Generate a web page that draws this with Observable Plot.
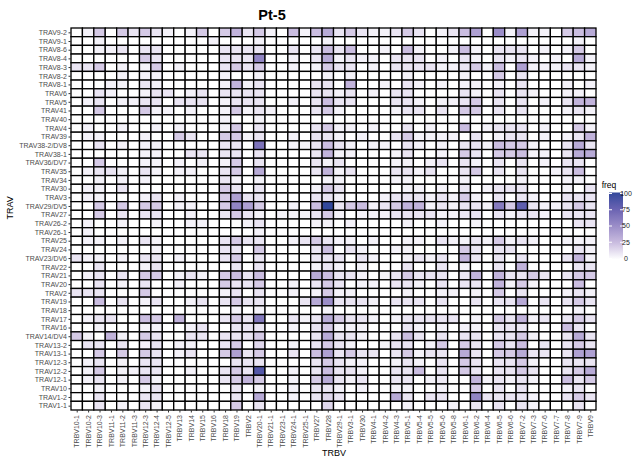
<!DOCTYPE html>
<html><head><meta charset="utf-8">
<script src="https://cdn.jsdelivr.net/npm/d3@7"></script>
<script src="https://cdn.jsdelivr.net/npm/@observablehq/plot@0.6"></script>
<style>
body{margin:0;background:#fff;font-family:"Liberation Sans",Arial,Helvetica,sans-serif;}
#wrap{position:relative;width:641px;height:462px;}
#title{position:absolute;left:0;top:8px;width:544px;text-align:center;font-weight:bold;font-size:14.5px;line-height:14px;color:#000;}
</style></head><body>
<div id="wrap"><div id="title">Pt-5</div></div>
<script>
const trbv = ["TRBV10-1","TRBV10-2","TRBV10-3","TRBV11-1","TRBV11-2","TRBV11-3","TRBV12-3","TRBV12-4","TRBV12-5","TRBV13","TRBV14","TRBV15","TRBV16","TRBV18","TRBV19","TRBV2","TRBV20-1","TRBV21-1","TRBV23-1","TRBV24-1","TRBV25-1","TRBV27","TRBV28","TRBV29-1","TRBV3-1","TRBV30","TRBV4-1","TRBV4-2","TRBV4-3","TRBV5-1","TRBV5-4","TRBV5-5","TRBV5-6","TRBV5-8","TRBV6-1","TRBV6-2","TRBV6-4","TRBV6-5","TRBV6-6","TRBV7-2","TRBV7-3","TRBV7-6","TRBV7-7","TRBV7-8","TRBV7-9","TRBV9"];

const trav = ["TRAV9-2","TRAV9-1","TRAV8-6","TRAV8-4","TRAV8-3","TRAV8-2","TRAV8-1","TRAV6","TRAV5","TRAV41","TRAV40","TRAV4","TRAV39","TRAV38-2/DV8","TRAV38-1","TRAV36/DV7","TRAV35","TRAV34","TRAV30","TRAV3","TRAV29/DV5","TRAV27","TRAV26-2","TRAV26-1","TRAV25","TRAV24","TRAV23/DV6","TRAV22","TRAV21","TRAV20","TRAV2","TRAV19","TRAV18","TRAV17","TRAV16","TRAV14/DV4","TRAV13-2","TRAV13-1","TRAV12-3","TRAV12-2","TRAV12-1","TRAV10","TRAV1-2","TRAV1-1"];

// non-zero cells per TRAV row: [TRBV index, freq]
const freqPairs = [
 [[1,5],[2,20],[4,20],[5,10],[6,20],[7,10],[8,5],[10,5],[11,20],[13,20],[14,30],[15,10],[16,20],[17,5],[19,25],[20,5],[21,25],[22,35],[23,10],[24,20],[25,10],[26,5],[27,5],[28,10],[29,20],[30,10],[32,5],[33,10],[34,25],[35,40],[37,50],[38,5],[39,40],[40,5],[41,5],[43,20],[44,25],[45,35]],
 [[2,5],[12,5],[16,5],[22,5],[44,5]],
 [[2,5],[3,5],[4,10],[6,10],[7,10],[13,10],[14,10],[15,10],[16,10],[19,10],[21,10],[22,25],[23,10],[24,25],[27,5],[29,25],[30,5],[33,5],[34,25],[35,5],[37,10],[38,10],[39,10],[41,5],[43,5],[44,20]],
 [[6,20],[7,10],[13,10],[14,10],[15,10],[16,55],[19,5],[21,10],[22,35],[23,5],[24,10],[25,5],[26,5],[28,10],[29,10],[30,10],[32,5],[34,10],[35,5],[37,10],[38,5],[39,10],[40,5],[42,5],[44,35],[45,5]],
 [[0,10],[1,10],[2,20],[4,5],[6,5],[7,20],[9,5],[13,10],[14,20],[15,10],[16,20],[19,5],[21,5],[22,20],[23,10],[24,10],[26,5],[28,10],[29,10],[30,10],[31,10],[32,5],[33,5],[34,10],[35,20],[36,5],[37,25],[39,40],[40,5],[41,5],[42,5],[43,10],[44,10],[45,5]],
 [[4,5],[6,5],[7,5],[13,5],[16,5],[22,5],[24,5],[29,5],[34,5],[37,20],[39,10]],
 [[3,5],[4,5],[6,10],[7,5],[13,5],[14,30],[15,5],[16,10],[21,10],[22,10],[24,30],[27,5],[29,10],[30,5],[32,5],[34,5],[35,5],[37,5],[39,10],[43,5],[45,5]],
 [[2,10],[3,5],[6,5],[7,10],[8,10],[10,5],[11,10],[13,10],[14,10],[15,10],[16,10],[21,10],[22,10],[23,5],[24,10],[26,5],[28,10],[29,10],[34,10],[35,5],[37,10],[39,10],[40,5],[43,5],[44,5]],
 [[1,5],[2,10],[4,5],[5,5],[6,10],[7,10],[9,10],[10,10],[11,10],[13,5],[14,10],[15,10],[16,10],[19,5],[21,10],[22,25],[23,10],[24,10],[28,10],[29,10],[30,5],[32,5],[33,5],[34,10],[35,20],[37,10],[39,10],[41,5],[43,10],[44,30],[45,30]],
 [[2,20],[6,20],[7,5],[8,5],[10,5],[13,5],[14,20],[15,5],[16,10],[17,5],[21,10],[22,20],[23,5],[28,5],[29,10],[30,10],[32,10],[34,20],[35,20],[37,10],[39,10],[43,5],[44,10],[45,5]],
 [[13,5],[16,5]],
 [[1,5],[4,5],[7,5],[9,5],[13,5],[14,20],[16,10],[21,10],[22,20],[23,5],[24,5],[26,5],[29,10],[31,5],[34,25],[36,5],[37,10],[38,10],[39,10],[41,5],[44,20],[45,5]],
 [[1,5],[2,5],[6,5],[9,20],[10,10],[13,20],[14,20],[15,5],[16,10],[19,5],[21,10],[22,10],[23,5],[25,5],[28,10],[29,20],[30,5],[31,5],[32,5],[33,5],[35,10],[37,5],[38,10],[39,10],[41,5],[43,5],[44,10],[45,30]],
 [[2,10],[4,5],[6,5],[7,5],[13,10],[14,10],[16,65],[19,5],[20,5],[21,10],[22,25],[23,10],[24,5],[26,5],[27,5],[29,10],[30,5],[32,5],[34,10],[35,10],[36,5],[37,25],[38,20],[39,20],[40,5],[43,10],[44,35],[45,10]],
 [[6,5],[7,5],[10,10],[11,10],[13,10],[14,10],[16,10],[21,10],[22,30],[23,5],[24,5],[28,5],[29,10],[32,5],[34,20],[35,10],[37,20],[38,20],[39,25],[40,5],[41,5],[43,10],[44,35],[45,35]],
 [[2,20],[6,5],[7,5],[9,5],[11,5],[13,5],[14,20],[16,10],[21,10],[22,5],[23,10],[28,5],[29,5],[31,5],[32,10],[34,10],[35,5],[37,10],[39,10],[41,5],[43,10],[44,10]],
 [[1,5],[2,10],[3,10],[4,5],[6,10],[7,5],[9,5],[10,5],[13,10],[14,20],[16,35],[21,10],[22,30],[23,5],[24,10],[28,10],[29,10],[30,5],[31,10],[34,10],[35,20],[37,10],[39,10],[42,5],[43,10],[44,25]],
 [[2,5],[4,5],[6,5],[13,10],[14,5],[16,5],[22,5],[23,5],[28,5],[29,5],[34,5],[39,5],[43,5],[44,5]],
 [[1,5],[2,5],[4,10],[13,20],[14,10],[16,10],[21,5],[22,20],[23,10],[29,5],[30,5],[32,5],[34,10],[36,5],[37,10],[38,10],[39,10],[43,5],[45,10]],
 [[1,5],[2,5],[6,5],[7,10],[9,5],[13,20],[14,40],[15,10],[16,10],[21,10],[22,10],[23,5],[27,5],[28,10],[29,10],[30,10],[31,5],[32,10],[33,5],[34,20],[35,5],[37,10],[39,10],[40,5],[43,10],[44,10],[45,10]],
 [[2,20],[4,20],[6,20],[7,20],[9,5],[10,5],[13,20],[14,55],[15,40],[16,20],[19,5],[21,25],[22,100],[23,10],[24,20],[25,25],[26,5],[27,10],[28,20],[29,30],[30,30],[31,5],[32,10],[33,5],[34,10],[35,10],[36,5],[37,60],[38,20],[39,80],[40,10],[41,5],[42,5],[43,10],[44,20],[45,10]],
 [[2,20],[4,10],[6,10],[7,10],[10,5],[13,10],[14,20],[15,10],[16,5],[18,5],[19,5],[20,5],[21,10],[22,20],[23,5],[25,5],[26,5],[27,5],[28,10],[29,10],[30,10],[31,10],[32,5],[33,5],[34,10],[35,10],[37,10],[38,5],[39,10],[40,10],[41,5],[43,10],[44,10],[45,10]],
 [[1,5],[4,5],[7,5],[10,5],[11,5],[15,5],[16,10],[21,5],[22,5],[24,5],[29,5],[32,5],[35,5],[44,10],[45,10]],
 [[1,5],[16,5]],
 [[1,5],[2,5],[4,5],[6,10],[7,5],[13,10],[14,20],[15,10],[16,10],[19,5],[20,10],[21,20],[22,10],[23,5],[24,5],[26,5],[29,5],[30,5],[32,10],[33,5],[34,5],[35,10],[36,5],[37,20],[38,5],[39,10],[40,5],[43,5],[44,5],[45,5]],
 [[7,5],[13,10],[14,10],[16,20],[21,10],[22,25],[24,10],[25,5],[28,5],[29,5],[34,20],[35,10],[37,10],[38,10],[44,10],[45,5]],
 [[0,10],[1,5],[2,5],[4,5],[6,10],[7,10],[9,5],[13,10],[14,20],[16,10],[21,10],[22,10],[23,10],[25,10],[26,5],[29,5],[30,10],[31,5],[32,10],[34,30],[35,10],[37,10],[39,10],[43,10],[44,30],[45,5]],
 [[2,10],[6,5],[7,10],[14,10],[16,10],[21,5],[22,10],[23,5],[25,5],[29,10],[32,10],[34,5],[37,10],[39,30],[44,10],[45,10]],
 [[1,5],[2,10],[4,10],[6,20],[7,20],[9,5],[10,10],[11,5],[13,20],[14,25],[15,10],[16,25],[21,35],[22,25],[23,10],[24,10],[25,5],[27,5],[28,10],[29,20],[30,10],[31,10],[32,10],[34,10],[35,30],[37,30],[38,10],[39,10],[40,20],[41,10],[43,10],[44,20],[45,20]],
 [[2,10],[4,5],[6,10],[9,5],[13,20],[14,10],[15,10],[16,20],[19,5],[21,10],[22,20],[23,10],[25,5],[26,5],[28,10],[29,10],[30,5],[32,10],[34,10],[35,10],[37,30],[38,5],[39,20],[40,5],[44,25]],
 [[0,10],[1,10],[2,10],[6,20],[13,5],[14,10],[16,10],[19,5],[21,5],[22,20],[23,5],[24,5],[29,5],[32,5],[33,5],[35,5],[37,20],[39,10],[43,5],[44,10],[45,5]],
 [[2,25],[4,10],[6,5],[7,10],[10,5],[11,10],[13,10],[14,20],[15,10],[16,10],[20,10],[21,35],[22,50],[23,10],[24,10],[25,10],[26,5],[28,10],[29,10],[30,10],[32,10],[35,10],[37,10],[38,10],[39,35],[41,10],[43,10],[44,20],[45,10]],
 [[14,5],[16,5],[22,5],[44,5]],
 [[1,5],[2,10],[3,10],[6,25],[7,20],[9,30],[13,10],[14,20],[15,10],[16,62],[19,10],[20,5],[21,10],[22,35],[23,20],[24,10],[25,10],[26,5],[28,5],[29,10],[30,10],[31,10],[32,10],[33,10],[35,5],[37,20],[38,10],[39,30],[40,5],[41,10],[43,10],[44,20],[45,10]],
 [[2,5],[6,5],[7,5],[10,5],[11,10],[14,10],[15,10],[16,10],[19,5],[21,10],[22,20],[23,5],[24,5],[25,5],[29,10],[30,5],[32,5],[34,5],[35,5],[37,10],[38,10],[39,10],[43,25],[44,10]],
 [[0,20],[1,5],[3,30],[4,5],[6,20],[7,10],[10,10],[11,10],[13,10],[14,10],[15,10],[16,20],[21,10],[22,35],[23,10],[24,10],[25,5],[28,10],[29,25],[30,10],[32,10],[34,10],[35,10],[37,10],[38,10],[39,20],[40,5],[43,10],[44,35],[45,10]],
 [[1,10],[2,10],[4,10],[6,5],[7,10],[9,5],[10,5],[13,10],[14,20],[16,15],[19,5],[21,10],[22,20],[23,10],[24,5],[27,5],[28,10],[29,10],[31,5],[32,20],[34,20],[35,10],[37,20],[38,10],[39,25],[41,10],[43,10],[44,20],[45,10]],
 [[2,20],[4,20],[6,20],[7,10],[9,5],[10,10],[13,20],[14,40],[15,10],[16,20],[19,10],[21,25],[22,40],[23,10],[24,20],[25,10],[26,10],[28,10],[29,20],[30,5],[31,10],[32,10],[34,35],[35,10],[37,20],[38,20],[39,35],[40,10],[41,10],[43,10],[44,40],[45,40]],
 [[1,5],[2,10],[4,5],[6,10],[7,10],[14,10],[15,10],[16,10],[21,10],[22,20],[23,10],[24,5],[25,5],[28,5],[29,10],[30,5],[32,10],[34,20],[35,10],[37,10],[38,10],[39,20],[40,5],[43,10],[44,10],[45,10]],
 [[1,5],[2,20],[4,5],[5,5],[6,10],[7,10],[10,5],[13,10],[14,20],[15,10],[16,85],[19,5],[21,10],[22,25],[23,10],[24,10],[25,5],[28,10],[29,10],[30,25],[32,10],[34,20],[35,10],[37,10],[38,10],[39,20],[40,10],[43,10],[44,20],[45,35]],
 [[1,5],[2,10],[4,5],[6,20],[7,5],[13,10],[14,20],[15,30],[16,20],[19,5],[21,20],[22,35],[23,10],[24,5],[25,10],[28,10],[29,10],[31,5],[32,8],[35,30],[36,5],[37,10],[38,5],[39,10],[40,5],[43,25],[44,10],[45,20]],
 [[2,5],[6,5],[7,10],[14,10],[16,5],[19,5],[21,10],[22,10],[23,5],[25,5],[28,5],[29,5],[32,5],[35,20],[37,10],[39,10],[43,5],[44,10]],
 [[2,10],[6,10],[7,10],[14,10],[16,35],[19,5],[21,10],[22,15],[23,10],[28,35],[29,10],[31,10],[32,10],[35,55],[36,10],[37,10],[38,10],[39,10],[40,5],[43,10],[44,20],[45,10]],
 [[2,10],[4,5],[6,10],[7,5],[14,20],[16,10],[22,15],[29,5],[33,5],[35,10],[37,10],[39,10],[40,5],[44,10]]
];

const legendTicks = [0, 25, 50, 75, 100];

const data = [];
trav.forEach((a, i) => {
  const row = new Map(freqPairs[i]);
  trbv.forEach((b, j) => data.push({TRAV: a, TRBV: b, freq: row.has(j) ? row.get(j) : 0}));
});

const colorOpts = {type: "linear", domain: [0, 25, 50, 75, 100],
  range: ["#ffffff", "#CABDE0", "#9B8DC8", "#6A63B2", "#32489C"], interpolate: "rgb"};

const chart = Plot.plot({
  width: 641, height: 462,
  marginLeft: 71, marginRight: 45, marginTop: 28, marginBottom: 52,
  style: {fontFamily: "Liberation Sans, Arial, Helvetica, sans-serif", fontSize: "7px", color: "#4d4d4d", background: "transparent"},
  x: {domain: trbv, padding: 0, round: false, label: null},
  y: {domain: trav, padding: 0, round: false, label: null},
  color: colorOpts,
  marks: [
    Plot.cell(data, {x: "TRBV", y: "TRAV", fill: "freq", stroke: "black", strokeWidth: 1.3}),
    Plot.axisX({tickRotate: -90, tickSize: 2.5, tickPadding: 2, fontSize: 7, label: null, stroke: "#333"}),
    Plot.axisY({tickSize: 2.5, tickPadding: 2, fontSize: 7, label: null, stroke: "#333"}),
    Plot.text(["TRBV"], {frameAnchor: "bottom", dy: 45, fontSize: 9, fill: "black"}),
    Plot.text(["TRAV"], {frameAnchor: "left", dx: -61, rotate: -90, fontSize: 9, fill: "black"})
  ]
});
document.getElementById("wrap").appendChild(chart);

// vertical colourbar legend
const cs = Plot.scale({color: colorOpts});
const svg = d3.select(chart);
const grad = svg.append("defs").append("linearGradient").attr("id", "fgrad")
  .attr("x1", 0).attr("y1", 1).attr("x2", 0).attr("y2", 0);
d3.range(0, 101, 5).forEach(v => grad.append("stop").attr("offset", v / 100).attr("stop-color", cs.apply(v)));
const lx = 609, lw = 14, ly0 = 258.5, lh = 65;
const g = svg.append("g");
g.append("text").attr("x", lx).attr("y", 188).attr("font-size", 8.5).attr("fill", "black").text("freq");
g.append("rect").attr("x", lx).attr("y", ly0 - lh - 1).attr("width", lw).attr("height", lh + 2).attr("fill", "url(#fgrad)");
legendTicks.forEach(v => {
  const y = ly0 - v / 100 * lh;
  g.append("line").attr("x1", lx).attr("x2", lx + 3).attr("y1", y).attr("y2", y).attr("stroke", "white").attr("stroke-width", 1);
  g.append("line").attr("x1", lx + lw - 3).attr("x2", lx + lw).attr("y1", y).attr("y2", y).attr("stroke", "white").attr("stroke-width", 1);
  g.append("text").attr("x", lx + lw + 3).attr("y", y).attr("dy", "0.35em").attr("font-size", 7).attr("fill", "#1a1a1a").text(v);
});
</script>
</body></html>
